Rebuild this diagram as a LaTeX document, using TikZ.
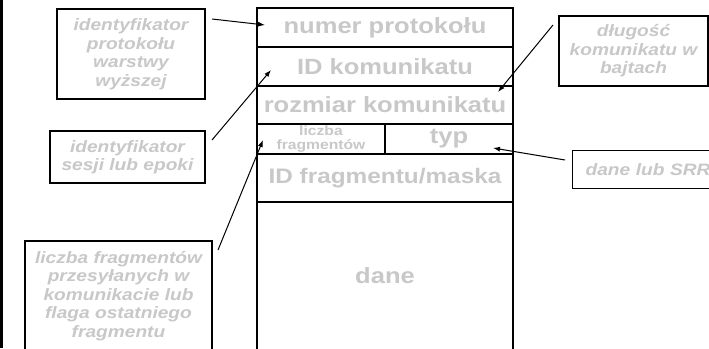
\documentclass[tikz,border=0pt]{standalone}
\usepackage{fontspec}
\newfontfamily\lab[FakeStretch=1.16]{Liberation Sans}
\usetikzlibrary{arrows.meta}
\definecolor{lg}{RGB}{200,200,200}
\begin{document}
\begin{tikzpicture}[x=1pt,y=-1pt,
  row/.style={draw, line width=1.3pt, minimum width=256pt, inner sep=0pt, text=lg,
    font=\lab\bfseries\fontsize{22}{24}\selectfont},
  note/.style={draw, line width=1.3pt, inner sep=0pt, align=center, text=lg,
    font=\lab\bfseries\itshape\fontsize{16.5}{18.5}\selectfont},
  ptr/.style={-{Latex[length=7pt,width=5pt]}, line width=1pt}]
\clip (0,0) rectangle (709,348);
\fill[white] (0,0) rectangle (709,348);
\fill[black] (0,0) rectangle (3,348);
% main frame
\node[row, minimum height=39pt] (r1) at (385,27.5) {numer protokołu};
\node[row, minimum height=39pt] (r2) at (385,66.5) {ID komunikatu};
\node[row, minimum height=38pt] (r3) at (385,105) {rozmiar komunikatu};
\node[row, minimum width=128pt, minimum height=30pt, align=center,
  font=\lab\bfseries\fontsize{13.5}{14}\selectfont] (r4a) at (321,139.5) {liczba\\fragmentów};
\node[row, minimum width=128pt, minimum height=30pt] (r4b) at (449,139) {typ};
\node[row, minimum height=48pt, font=\lab\bfseries\fontsize{21}{24}\selectfont] (r5) at (385,178) {ID fragmentu/maska};
\node[row, minimum height=148pt] (r6) at (385,276) {dane};
% notes
\node[note, minimum width=148pt, minimum height=90pt] (n1) at (131,54)
  {identyfikator\\protokołu\\warstwy\\wyższej};
\node[note, minimum width=155pt, minimum height=52pt] (n2) at (127.5,157)
  {identyfikator\\sesji lub epoki};
\node[note, minimum width=187pt, minimum height=110pt] (n3) at (118.5,296)
  {liczba fragmentów\\przesyłanych w\\komunikacie lub\\flaga ostatniego\\fragmentu};
\node[note, minimum width=149pt, minimum height=70pt] (n4) at (633.5,51)
  {długość\\komunikatu w\\bajtach};
\node[note, anchor=west, text width=140pt, align=left, inner xsep=13pt,
  minimum height=38pt] (n5) at (572,169.5) {dane lub SRR};
% connectors
\coordinate (a1s) at (212,19);  \coordinate (a1e) at (265,25);
\coordinate (a2s) at (212,140); \coordinate (a2e) at (271,70);
\coordinate (a3s) at (553,25);  \coordinate (a3e) at (498,92);
\coordinate (a4s) at (565,160); \coordinate (a4e) at (493,148);
\coordinate (a5s) at (218,250); \coordinate (a5e) at (263,140);
\draw[ptr] (a1s) -- (a1e);
\draw[ptr] (a2s) -- (a2e);
\draw[ptr] (a3s) -- (a3e);
\draw[ptr] (a4s) -- (a4e);
\draw[ptr] (a5s) -- (a5e);
\end{tikzpicture}
\end{document}
